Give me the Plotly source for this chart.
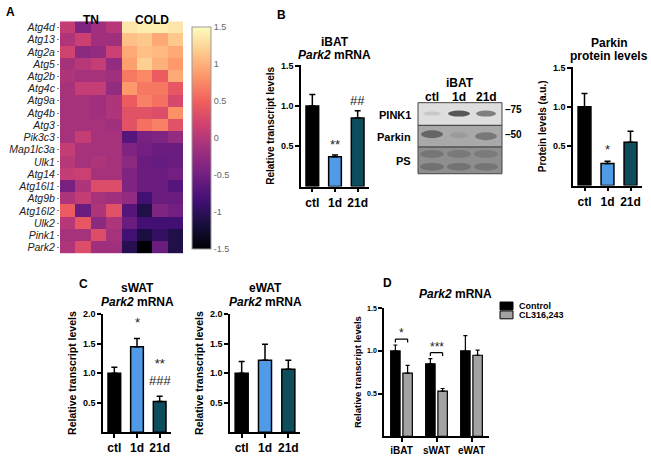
import plotly.graph_objects as go

W, H = 651, 456
FONT = "Liberation Sans, Arial, sans-serif"

# ---- panel A: heatmap data (z-scores) ----
genes = ["Atg4d", "Atg13", "Atg2a", "Atg5", "Atg2b", "Atg4c", "Atg9a", "Atg4b", "Atg3",
         "Pik3c3", "Map1lc3a", "Ulk1", "Atg14", "Atg16l1", "Atg9b", "Atg16l2", "Ulk2",
         "Pink1", "Park2"]
tn_z = [
    [0.10, -0.40, -0.15, 0.00], [-0.05, 0.15, -0.15, -0.15], [0.20, -0.30, -0.25, 0.15],
    [-0.10, 0.00, 0.10, -0.25], [-0.05, -0.10, -0.10, -0.15], [-0.10, 0.10, 0.10, -0.25],
    [-0.10, -0.10, -0.15, -0.05], [-0.10, -0.10, -0.15, -0.05], [-0.10, -0.10, -0.10, -0.15],
    [-0.10, 0.10, -0.10, -0.10], [0.10, -0.10, -0.10, -0.10], [0.00, -0.10, -0.05, -0.10],
    [0.10, 0.15, -0.10, -0.10], [-0.45, -0.05, 0.30, 0.30], [-0.05, 0.10, -0.10, -0.15],
    [0.45, -0.55, -0.05, 0.35], [0.00, 0.40, -0.30, -0.05], [-0.10, -0.10, 0.30, -0.10],
    [-0.05, 0.30, -0.15, -0.15],
]
cold_z = [
    [1.35, 1.40, 1.40, 1.35], [1.10, 1.15, 0.95, 1.15], [0.95, 1.10, 1.05, 0.95],
    [0.90, 1.20, 1.00, 0.85], [0.65, 0.75, 0.45, 0.95], [0.85, 0.65, 0.65, 0.40],
    [0.45, 0.70, 0.60, 0.25], [0.35, 0.35, 0.30, 0.80], [0.35, 0.60, 0.70, 0.35],
    [-0.70, -0.45, -0.40, -0.25], [-0.40, -0.50, -0.55, -0.55], [-0.30, -0.55, -0.60, -0.55],
    [-0.40, -0.55, -0.55, -0.50], [-0.40, -0.55, -0.55, -0.70], [-0.25, -0.85, -0.55, -0.55],
    [-0.70, -1.10, -0.40, -0.50], [-0.55, -0.85, -0.85, -0.85], [-0.85, -1.15, -0.95, -1.10],
    [-1.05, -1.50, -0.55, -1.10],
]
cbar_ticks = [1.5, 1, 0.5, 0, -0.5, -1, -1.5]

# ---- panel B / C: time course ----
groups = ["ctl", "1d", "21d"]
group_colors = ["#000000", "#4f9be8", "#0d4d5c"]
ibat_mrna = [1.00, 0.37, 0.85]
ibat_mrna_err = [0.14, 0.02, 0.09]
ibat_mrna_sig = ["", "**", "##"]
parkin_protein = [1.00, 0.28, 0.55]
parkin_protein_err = [0.17, 0.03, 0.14]
parkin_protein_sig = ["", "*", ""]
swat_mrna = [1.00, 1.45, 0.52]
swat_mrna_err = [0.10, 0.14, 0.09]
swat_mrna_sig = ["", "*", "**<br>###"]
ewat_mrna = [1.00, 1.22, 1.07]
ewat_mrna_err = [0.20, 0.27, 0.15]

# ---- panel D: CL316,243 ----
depots = ["iBAT", "sWAT", "eWAT"]
ctrl_mrna = [1.00, 0.85, 1.00]
ctrl_mrna_err = [0.07, 0.06, 0.18]
cl_mrna = [0.74, 0.53, 0.95]
cl_mrna_err = [0.09, 0.03, 0.06]
cl_sig = ["*", "***", ""]

# western blot lanes
blot_lanes = ["ctl", "1d", "21d"]
blot_rows = ["PINK1", "Parkin", "PS"]


def px(x):
    return x / W


def py(y):
    return 1 - y / H


fig = go.Figure()

# heatmap
z = [t + c for t, c in zip(tn_z, cold_z)]
fig.add_trace(go.Heatmap(
    z=z, x=list(range(8)), y=genes, xaxis="x", yaxis="y",
    colorscale="Magma", zmin=-1.5, zmax=1.5, showscale=True, hoverinfo="skip",
    colorbar=dict(
        x=px(192), xanchor="left", y=py(135.5), yanchor="middle",
        len=225 / H, thickness=19, xpad=0, ypad=0,
        outlinewidth=1, outlinecolor="#9a9a9a", ticks="",
        tickvals=cbar_ticks, ticktext=["%g" % v for v in cbar_ticks],
        tickfont=dict(family=FONT, size=9, color="#666"),
    ),
))


def add_bars(values, errs, xa, ya):
    fig.add_trace(go.Bar(
        x=groups, y=values, xaxis=xa, yaxis=ya, width=0.56,
        marker=dict(color=group_colors, line=dict(color="black", width=1.5)),
        error_y=dict(type="data", array=errs, arrayminus=[0] * len(errs), symmetric=False,
                     color="black", thickness=1.5, width=3),
        showlegend=False,
    ))


add_bars(ibat_mrna, ibat_mrna_err, "x2", "y2")
add_bars(parkin_protein, parkin_protein_err, "x3", "y3")
add_bars(swat_mrna, swat_mrna_err, "x4", "y4")
add_bars(ewat_mrna, ewat_mrna_err, "x5", "y5")

# grouped bars panel D
for vals, errs, col, off, name in [(ctrl_mrna, ctrl_mrna_err, "#000000", -0.31, "Control"),
                                   (cl_mrna, cl_mrna_err, "#a3a3a3", 0.04, "CL316,243")]:
    fig.add_trace(go.Bar(
        x=depots, y=vals, xaxis="x6", yaxis="y6", width=0.27, offset=off, name=name,
        marker=dict(color=col, line=dict(color="black", width=1.2)),
        error_y=dict(type="data", array=errs, arrayminus=[0] * 3, symmetric=False,
                     color="black", thickness=1.2, width=2),
        showlegend=False,
    ))

axis_common = dict(showline=True, linecolor="black", linewidth=1.5, ticks="outside",
                   ticklen=4, tickwidth=1.5, tickcolor="black", showgrid=False,
                   zeroline=False, fixedrange=True)


def bar_axes(n, x0, x1, y0, y1, ymax, tickvals, tsize=9, xsize=12, title_size=10, standoff=4):
    fig.update_layout(**{
        f"xaxis{n}": dict(axis_common, domain=[px(x0), px(x1)], anchor=f"y{n}",
                          range=[-0.5, 2.5], type="category",
                          tickfont=dict(family=FONT, size=xsize, color="black", weight="bold")),
        f"yaxis{n}": dict(axis_common, domain=[py(y1), py(y0)], anchor=f"x{n}",
                          range=[0, ymax * 1.003], tickvals=tickvals, tickformat=".1f",
                          tickfont=dict(family=FONT, size=tsize, color="black", weight="bold"),
                          title=dict(text="Relative transcript levels" if n != 3 else "Protein levels (a.u.)",
                                     font=dict(family=FONT, size=title_size, color="black", weight="bold"),
                                     standoff=standoff)),
    })


bar_axes(2, 301, 369, 62, 185, 1.5, [0.5, 1.0, 1.5])
bar_axes(3, 573, 642, 64, 184, 1.5, [0.5, 1.0, 1.5])
bar_axes(4, 103, 171, 314, 434, 2.0, [0.5, 1.0, 1.5, 2.0], title_size=10.5)
bar_axes(5, 230, 300, 314, 434, 2.0, [0.5, 1.0, 1.5, 2.0], title_size=10.5)
bar_axes(6, 384, 489, 308, 438, 1.5, [0.5, 1.0, 1.5], tsize=7, xsize=10, title_size=9.5)

fig.update_layout(
    xaxis=dict(domain=[px(60), px(183)], anchor="y", range=[-0.5, 7.5], showticklabels=False,
               ticks="", showgrid=False, zeroline=False, showline=False, fixedrange=True),
    yaxis=dict(domain=[py(253), py(17.5)], anchor="x", autorange="reversed", ticks="outside",
               tickmode="array", tickvals=genes, ticktext=genes, fixedrange=True,
               ticklen=2, tickcolor="#888", showgrid=False, zeroline=False,
               tickfont=dict(family=FONT, size=10.5, color="#222", style="italic")),
    barmode="overlay",
    width=W, height=H, margin=dict(l=0, r=0, t=0, b=0),
    paper_bgcolor="white", plot_bgcolor="white",
    font=dict(family=FONT, color="black"),
)

ann = []


def text(x, y, s, size=12, xanchor="center", bold=True, color="black", **kw):
    ann.append(dict(x=px(x), y=py(y), xref="paper", yref="paper", text=s, showarrow=False,
                    xanchor=xanchor, yanchor="middle",
                    font=dict(family=FONT, size=size, color=color, weight="bold" if bold else "normal"), **kw))


# panel letters
for letter, x, y in [("A", 4, 8), ("B", 275, 11), ("C", 77, 284), ("D", 381, 283)]:
    text(x, y, letter, size=12, xanchor="left")

# heatmap column headers
ann.append(dict(x=1.5, y=py(7), xref="x", yref="paper", text="TN", showarrow=False,
                font=dict(family=FONT, size=12, weight="bold")))
ann.append(dict(x=5.5, y=py(7), xref="x", yref="paper", text="COLD", showarrow=False,
                font=dict(family=FONT, size=12, weight="bold")))

# panel titles
text(335, 38, "iBAT")
text(335, 52, "<i>Park2</i> mRNA")
text(609, 40, "Parkin")
text(609, 53, "protein levels")
text(137, 288, "sWAT")
text(137, 302, "<i>Park2</i> mRNA")
text(265, 288, "eWAT")
text(265, 302, "<i>Park2</i> mRNA")
text(455, 294, "<i>Park2</i> mRNA")

# significance marks
for n, sig, vals, errs, shift in [(2, ibat_mrna_sig, ibat_mrna, ibat_mrna_err, 1),
                                  (3, parkin_protein_sig, parkin_protein, parkin_protein_err, 2),
                                  (4, swat_mrna_sig, swat_mrna, swat_mrna_err, 6)]:
    for g, s, v, e in zip(groups, sig, vals, errs):
        if s:
            ann.append(dict(x=g, y=v + e, xref=f"x{n}", yref=f"y{n}", text=s, showarrow=False,
                            yanchor="bottom", yshift=shift,
                            font=dict(family=FONT, size=13, color="#222")))

shapes = []

# brackets panel D
for i, s in enumerate(cl_sig):
    if not s:
        continue
    top = max(ctrl_mrna[i] + ctrl_mrna_err[i], cl_mrna[i] + cl_mrna_err[i]) + 0.07
    xa, xb = i - 0.175, i + 0.175
    for x0, y0, x1, y1 in [(xa, top, xb, top), (xa, top, xa, top - 0.04), (xb, top, xb, top - 0.04)]:
        shapes.append(dict(type="line", xref="x6", yref="y6", x0=x0, y0=y0, x1=x1, y1=y1,
                           line=dict(color="black", width=1.2)))
    ann.append(dict(x=i, y=top, xref="x6", yref="y6", text=s, showarrow=False, yanchor="bottom",
                    yshift=-3, font=dict(family=FONT, size=12, color="#222")))

# manual legend panel D
for (name, col), y0 in zip([("Control", "#000000"), ("CL316,243", "#a3a3a3")], [302, 311]):
    shapes.append(dict(type="rect", xref="paper", yref="paper", x0=px(500), x1=px(513),
                       y0=py(y0), y1=py(y0 + 8), fillcolor=col, line=dict(color="black", width=1)))
    text(517, y0 + 4, name, size=9, xanchor="left")

# western blot
bx0, bx1 = 418, 502
row_y = [100, 123, 145, 172]
row_fill = ["#dedede", "#a9a9a9", "#8e8e8e"]
for (r, fill), ya, yb in zip(zip(blot_rows, row_fill), row_y[:-1], row_y[1:]):
    shapes.append(dict(type="rect", xref="paper", yref="paper", x0=px(bx0), x1=px(bx1),
                       y0=py(yb), y1=py(ya), fillcolor=fill, line=dict(color="#444", width=1)))
    text(413, (ya + yb) / 2 + 1, r, size=11, xanchor="right")
lane_x = [432, 459, 486]
bands = [
    # (lane, ycenter, halfwidth, halfheight, color)
    (0, 111, 9, 2, "#c4c4c4"), (1, 111, 11, 3, "#3e3e3e"), (2, 111, 10, 3, "#6e6e6e"),
    (0, 132, 11, 4, "#5a5a5a"), (1, 133, 9, 3, "#999999"), (2, 134, 11, 4, "#707070"),
    (0, 152, 12, 4, "#727272"), (1, 152, 12, 4, "#767676"), (2, 152, 12, 4, "#787878"),
    (0, 165, 12, 4, "#6c6c6c"), (1, 165, 12, 4, "#6e6e6e"), (2, 165, 12, 4, "#717171"),
]
for lane, yc, hw, hh, col in bands:
    shapes.append(dict(type="circle", xref="paper", yref="paper", x0=px(lane_x[lane] - hw),
                       x1=px(lane_x[lane] + hw), y0=py(yc + hh), y1=py(yc - hh),
                       fillcolor=col, line=dict(width=0), opacity=0.85))
text(460, 80, "iBAT", size=12)
for lx, lab in zip(lane_x, blot_lanes):
    text(lx, 94, lab, size=12)
text(503, 107, "–75", size=10, xanchor="left")
text(503, 132, "–50", size=10, xanchor="left")

fig.update_layout(annotations=ann, shapes=shapes)
# drop the default 8px body margin so the figure sits at the page origin
fig.write_html("out.html", config={"displayModeBar": False},
               post_script="document.body.style.margin='0';")
